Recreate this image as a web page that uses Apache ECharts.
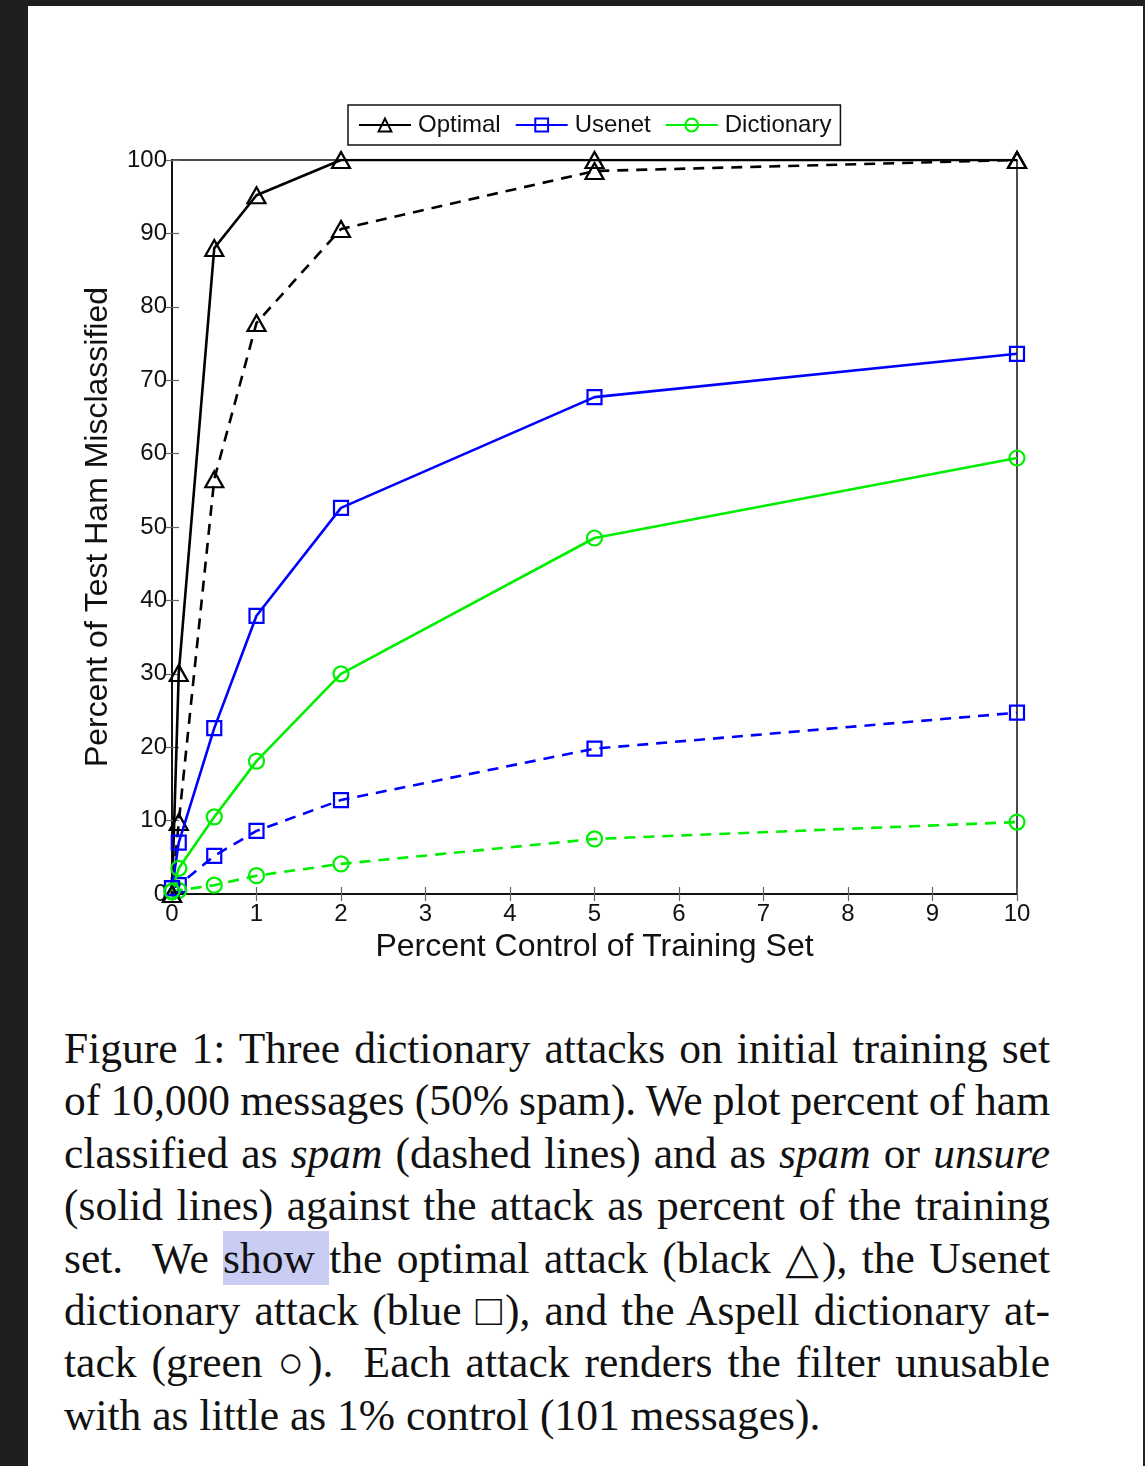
<!DOCTYPE html>
<html>
<head>
<meta charset="utf-8">
<script src="https://cdn.jsdelivr.net/npm/echarts@6/dist/echarts.min.js"></script>
<style>
  html, body { margin:0; padding:0; background:#1f1f1f; width:1145px; height:1466px; overflow:hidden; }
  #panel { position:absolute; left:28px; top:6px; width:1115px; height:1460px; background:#fff; }
  #chart { position:absolute; left:0; top:0; width:1145px; height:1000px; }
  #caption { position:absolute; left:64px; top:1022px; width:986px;
    font-family:"Liberation Serif","DejaVu Serif",serif; font-size:43.5px; line-height:52.4px; color:#111; }
  #caption .ln { text-align:justify; text-align-last:justify; white-space:nowrap; }
  #caption .ln.tight { word-spacing:-1.2px; }
  #caption .ln.last { text-align:left; text-align-last:left; }
  #caption .hl { background:#c9cdf3; padding:3px 0 3px 0; }
</style>
</head>
<body>
<div id="panel"></div>
<div id="chart"></div>
<div id="caption">
  <div class="ln">Figure 1: Three dictionary attacks on initial training set</div>
  <div class="ln tight">of 10,000 messages (50% spam). We plot percent of ham</div>
  <div class="ln">classified as <i>spam</i> (dashed lines) and as <i>spam</i> or <i>unsure</i></div>
  <div class="ln">(solid lines) against the attack as percent of the training</div>
  <div class="ln">set. &nbsp;We <span class="hl">show </span>the optimal attack (black △), the Usenet</div>
  <div class="ln">dictionary attack (blue □), and the Aspell dictionary at-</div>
  <div class="ln">tack (green ○). &nbsp;Each attack renders the filter unusable</div>
  <div class="ln last">with as little as 1% control (101 messages).</div>
</div>
<script>
// ---- data ----
const xValues = [0, 0.08, 0.5, 1, 2, 5, 10];
const optimalSolid    = [0, 30.1, 88.0, 95.2, 100, 100, 100];
const optimalDashed   = [0, 9.8, 56.5, 77.8, 90.6, 98.5, 100];
const usenetSolid     = [0.8, 7.0, 22.6, 37.9, 52.6, 67.7, 73.6];
const usenetDashed    = [0.8, 1.2, 5.2, 8.6, 12.8, 19.8, 24.7];
const dictSolid       = [0.4, 3.5, 10.5, 18.1, 30.0, 48.5, 59.4];
const dictDashed      = [0.3, 0.5, 1.2, 2.5, 4.1, 7.5, 9.8];
const xTicks = [0,1,2,3,4,5,6,7,8,9,10];
const yTicks = [0,10,20,30,40,50,60,70,80,90,100];
const legendNames = ['Optimal', 'Usenet', 'Dictionary'];

function pairs(ys) { return xValues.map((x, i) => [x, ys[i]]); }

const BLACK = '#000000', BLUE = '#0000ff', GREEN = '#00ee00';
function mk(name, ys, color, symbol, size, dashed) {
  return {
    name: name, type: 'line', data: pairs(ys),
    symbol: symbol, symbolSize: size, showAllSymbol: true,
    lineStyle: { color: color, width: 2.6, type: dashed ? [11, 8] : 'solid' },
    itemStyle: { color: 'rgba(255,255,255,0)', borderColor: color, borderWidth: 2.2 },
    emphasis: { disabled: true }, animation: false, z: dashed ? 3 : 4
  };
}

const chart = echarts.init(document.getElementById('chart'), null, { renderer: 'canvas' });
const axisFont = { fontFamily: 'Liberation Sans, Arial, sans-serif', color: '#111' };
chart.setOption({
  backgroundColor: 'transparent',
  animation: false,
  grid: { left: 172, top: 160, width: 845, height: 734, show: true,
          borderColor: '#111', borderWidth: 1.5, backgroundColor: 'transparent',
          containLabel: false, outerBoundsMode: 'none' },
  legend: {
    data: legendNames, left: 348, top: 105, orient: 'horizontal',
    backgroundColor: '#fff', borderColor: '#111', borderWidth: 1.5,
    padding: [8, 9, 8, 10], itemGap: 14, itemWidth: 52, itemHeight: 16,
    textStyle: { fontSize: 24, fontFamily: 'Liberation Sans, Arial, sans-serif', color: '#111', padding: [0, 0, 0, 2] },
    selectedMode: false
  },
  xAxis: [{
    type: 'value', min: 0, max: 10, interval: 1, position: 'bottom',
    name: 'Percent Control of Training Set', nameLocation: 'middle', nameGap: 32,
    nameTextStyle: Object.assign({ fontSize: 32 }, axisFont),
    axisLine: { show: true, lineStyle: { color: '#111', width: 1.5 } },
    axisTick: { show: true, inside: true, length: 7, lineStyle: { color: '#666', width: 1.2 } },
    axisLabel: Object.assign({ fontSize: 24, margin: 8, formatter: v => xTicks.includes(v) ? String(v) : '' }, axisFont),
    splitLine: { show: false }
  }, {
    type: 'value', min: 0, max: 10, interval: 1, position: 'top',
    axisLine: { show: true, lineStyle: { color: '#111', width: 1.5 } },
    axisTick: { show: true, inside: true, length: 7, lineStyle: { color: '#666', width: 1.2 } },
    axisLabel: { show: false }, splitLine: { show: false }
  }],
  yAxis: [{
    type: 'value', min: 0, max: 100, interval: 10, position: 'left',
    name: 'Percent of Test Ham Misclassified', nameLocation: 'middle', nameGap: 58,
    nameTextStyle: Object.assign({ fontSize: 32 }, axisFont),
    axisLine: { show: true, lineStyle: { color: '#111', width: 1.5 } },
    axisTick: { show: true, inside: true, length: 7, lineStyle: { color: '#666', width: 1.2 } },
    axisLabel: Object.assign({ fontSize: 24, margin: 5, formatter: v => yTicks.includes(v) ? String(v) : '' }, axisFont),
    splitLine: { show: false }
  }, {
    type: 'value', min: 0, max: 100, interval: 10, position: 'right',
    axisLine: { show: true, lineStyle: { color: '#111', width: 1.5 } },
    axisTick: { show: true, inside: true, length: 7, lineStyle: { color: '#666', width: 1.2 } },
    axisLabel: { show: false }, splitLine: { show: false }
  }],
  series: [
    mk('Optimal', optimalSolid, BLACK, 'triangle', [18, 16], false),
    mk('Usenet', usenetSolid, BLUE, 'rect', 14, false),
    mk('Dictionary', dictSolid, GREEN, 'circle', 15, false),
    mk('Optimal (spam)', optimalDashed, BLACK, 'triangle', [18, 16], true),
    mk('Usenet (spam)', usenetDashed, BLUE, 'rect', 14, true),
    mk('Dictionary (spam)', dictDashed, GREEN, 'circle', 15, true)
  ]
});
</script>
</body>
</html>
